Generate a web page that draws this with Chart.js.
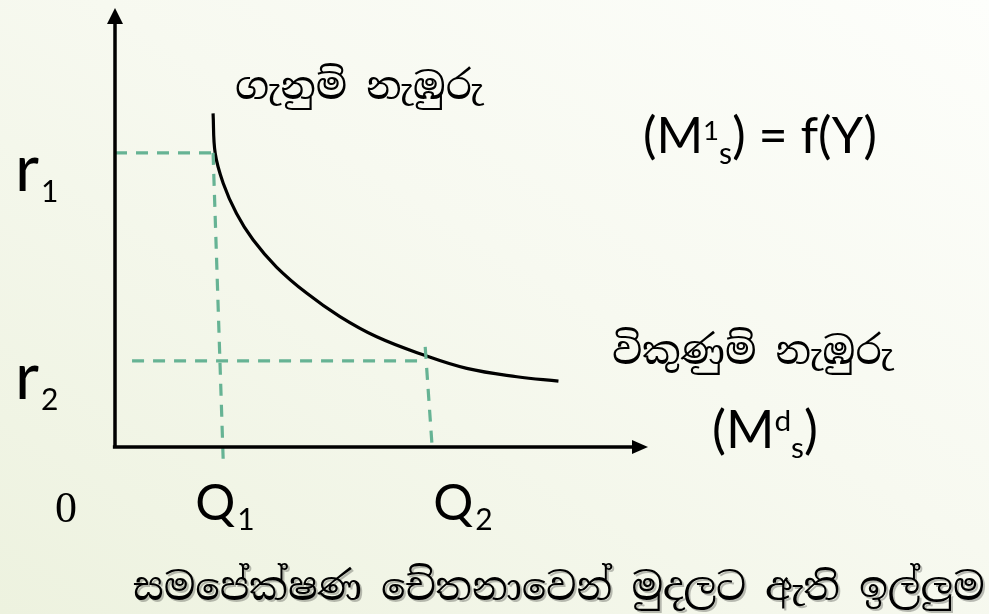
<!DOCTYPE html>
<html>
<head>
<meta charset="utf-8">
<script src="https://cdn.jsdelivr.net/npm/chart.js@4.4.1/dist/chart.umd.min.js"></script>
<style>
    html, body { margin: 0; padding: 0; }
    body {
        width: 989px; height: 614px; overflow: hidden;
        background: linear-gradient(to bottom left, #fdfefb 0%, #f7f9f0 45%, #edf2df 100%);
    }
</style>
</head>
<body>
<canvas id="chart" width="989" height="614"></canvas>
<script>
// demand for money curve: quantity (x) vs interest rate (y)
const curveQ = [1.84, 1.88, 2.03, 2.28, 2.59, 3.03, 3.60, 4.22, 4.91, 5.78, 6.60, 7.54, 8.32];
const curveR = [7.60, 6.69, 6.01, 5.32, 4.72, 4.10, 3.50, 2.97, 2.51, 2.10, 1.79, 1.60, 1.50];

// guide lines for r1 / r2 and Q1 / Q2
const rLevels = [6.70, 1.96];
const rStartQ = [0, 0.32];
const rEndQ = [1.84, 5.82];
const qTopQ = [1.84, 5.82];
const qTopR = [6.70, 2.28];
const qBottomQ = [2.03, 5.95];
const qBottomR = [-0.30, 0];

// tick labels
const yTickLabels = ['r', 'r'];
const yTickSubs = ['1', '2'];
const xTickLabels = ['Q', 'Q'];
const xTickSubs = ['1', '2'];
const originLabel = '0';

const topLabel = 'ගැනුම් නැඹුරු';
const rightLabel = 'විකුණුම් නැඹුරු';
const caption = 'සමපේක්ෂණ චේතනාවෙන් මුදලට ඇති ඉල්ලුම';

const LATIN = 'Lato, "Open Sans", sans-serif';
const SINHALA = '"Noto Serif Sinhala", "Noto Sans Sinhala", "Iskoola Pota", "Noto Sans", sans-serif';
const GUIDE = '#66b394';

const curvePoints = curveQ.map((q, i) => ({ x: q, y: curveR[i] }));

const guideSets = [];
rLevels.forEach((r, i) => {
    guideSets.push([{ x: rStartQ[i], y: r }, { x: rEndQ[i], y: r }]);
    guideSets.push([{ x: qTopQ[i], y: qTopR[i] }, { x: qBottomQ[i], y: qBottomR[i] }]);
});

const lineSet = (data, color, dash, width) => ({
    data: data,
    showLine: true,
    borderColor: color,
    borderWidth: width,
    borderDash: dash,
    pointRadius: 0,
    clip: false
});

// --- text helpers ---
// runs: [{t, size, dy}] -- sizes get scaled so the whole group fits the width
const drawRuns = (ctx, x, y, runs, width) => {
    let k = 1;
    if (width) {
        let total = 0;
        runs.forEach(run => {
            ctx.font = `${run.size}px ${LATIN}`;
            total += ctx.measureText(run.t).width;
        });
        k = width / total;
    }
    let cx = x;
    runs.forEach(run => {
        ctx.font = `${run.size * k}px ${LATIN}`;
        ctx.fillText(run.t, cx, y + (run.dy || 0));
        cx += ctx.measureText(run.t).width + (run.gap || 0);
    });
};

const fitText = (ctx, text, family, x, y, width) => {
    ctx.font = `100px ${family}`;
    const size = 100 * width / ctx.measureText(text).width;
    ctx.font = `${size}px ${family}`;
    ctx.fillText(text, x, y);
};

const labelsPlugin = {
    id: 'labels',
    afterDraw(chart) {
        const ctx = chart.ctx;
        const xs = chart.scales.x;
        const ys = chart.scales.y;
        const x0 = xs.getPixelForValue(0);
        const y0 = ys.getPixelForValue(0);
        ctx.save();
        ctx.fillStyle = '#000';

        // arrow heads
        const topY = ys.getPixelForValue(10);
        ctx.beginPath();
        ctx.moveTo(x0, topY);
        ctx.lineTo(x0 - 8, topY + 16);
        ctx.lineTo(x0 + 8, topY + 16);
        ctx.closePath();
        ctx.fill();
        const rightX = xs.getPixelForValue(10);
        ctx.beginPath();
        ctx.moveTo(rightX, y0);
        ctx.lineTo(rightX - 16, y0 - 7);
        ctx.lineTo(rightX - 16, y0 + 7);
        ctx.closePath();
        ctx.fill();

        ctx.textBaseline = 'alphabetic';
        // r1, r2
        rLevels.forEach((r, i) => {
            const py = ys.getPixelForValue(r);
            drawRuns(ctx, 15, py + 38, [
                { t: yTickLabels[i], size: 66, gap: 2 },
                { t: yTickSubs[i], size: 30, dy: 11 }
            ]);
        });
        // Q1, Q2
        const qOffsets = [-28, 1];
        qBottomQ.forEach((q, i) => {
            const px = xs.getPixelForValue(q);
            drawRuns(ctx, px + qOffsets[i], 520, [
                { t: xTickLabels[i], size: 50, gap: 2 },
                { t: xTickSubs[i], size: 30, dy: 10 }
            ]);
        });
        ctx.font = '44px "Liberation Serif", serif';
        ctx.fillText(originLabel, 55, 522);

        // formula labels
        drawRuns(ctx, 643, 153, [
            { t: '(M', size: 40 },
            { t: '1', size: 22, dy: -13 },
            { t: 's', size: 24, dy: 11 },
            { t: ') = f(Y)', size: 40 }
        ], 234);
        drawRuns(ctx, 712, 448, [
            { t: '(M', size: 42 },
            { t: 'd', size: 24, dy: -17 },
            { t: 's', size: 24, dy: 10 },
            { t: ')', size: 42 }
        ], 106);

        // Sinhala labels
        fitText(ctx, topLabel, SINHALA, 235, 99, 248);
        fitText(ctx, rightLabel, SINHALA, 612, 364, 281);
        ctx.fillStyle = 'rgba(0,0,0,0.25)';
        fitText(ctx, caption, SINHALA, 135, 602, 852);
        ctx.fillStyle = '#000';
        fitText(ctx, caption, SINHALA, 133, 600, 852);
        ctx.restore();
    }
};

new Chart(document.getElementById('chart'), {
    type: 'scatter',
    data: {
        datasets: [
            lineSet([{ x: 0, y: 0 }, { x: 0, y: 9.7 }], '#000', [], 3.5),
            lineSet([{ x: -0.04, y: 0 }, { x: 9.75, y: 0 }], '#000', [], 3.5),
            ...guideSets.map(d => lineSet(d, GUIDE, [12, 9], 3.2)),
            Object.assign(lineSet(curvePoints, '#000', [], 3.2), { tension: 0.4 })
        ]
    },
    options: {
        responsive: false,
        animation: false,
        events: [],
        layout: { padding: { left: 115, right: 341, top: 8, bottom: 167 } },
        plugins: { legend: { display: false }, tooltip: { enabled: false } },
        scales: {
            x: { type: 'linear', min: 0, max: 10, display: false },
            y: { type: 'linear', min: 0, max: 10, display: false }
        }
    },
    plugins: [labelsPlugin]
});
</script>
</body>
</html>
